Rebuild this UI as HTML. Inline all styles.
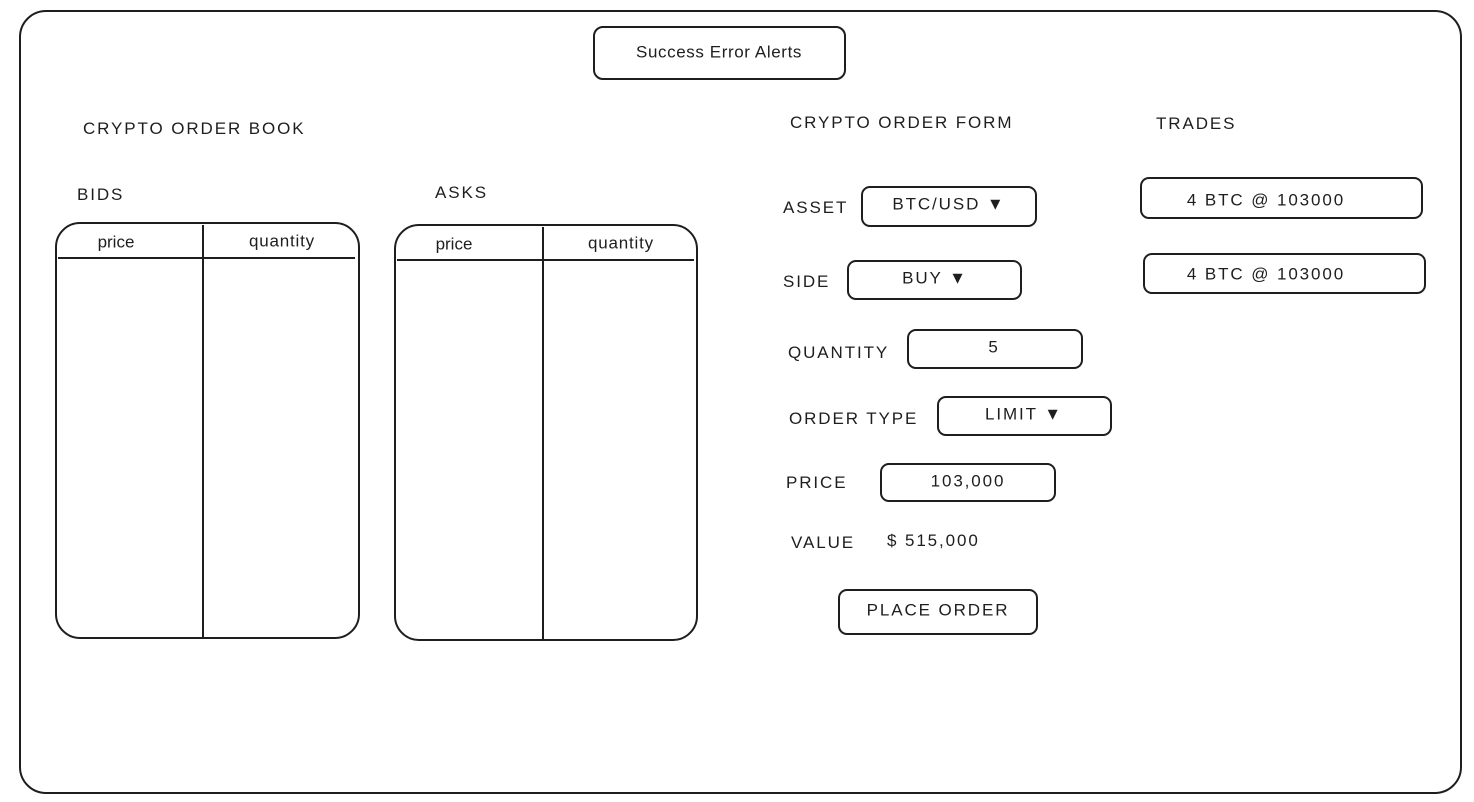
<!DOCTYPE html>
<html><head><meta charset="utf-8"><style>
html,body{margin:0;padding:0;background:#fff;}
svg{display:block;}
text{font-family:"Liberation Sans",sans-serif;fill:#1e1e1e;}
.l{font-size:17px;letter-spacing:1.9px;}
.c{text-anchor:middle;dominant-baseline:middle;}
rect{fill:none;stroke:#1e1e1e;stroke-width:2;}
line{stroke:#1e1e1e;stroke-width:2;}
</style></head><body>
<svg width="1474" height="802" viewBox="0 0 1474 802" xmlns="http://www.w3.org/2000/svg">
<rect x="20" y="11" width="1441" height="782" rx="26"/>
<rect x="594" y="27" width="251" height="52" rx="9"/>
<text x="719" y="53" class="c" font-size="17" letter-spacing="0.6">Success Error Alerts</text>

<text x="83" y="134" class="l">CRYPTO ORDER BOOK</text>
<text x="77" y="200" class="l">BIDS</text>
<text x="435" y="198" class="l">ASKS</text>

<rect x="56" y="223" width="303" height="415" rx="24"/>
<line x1="58" y1="258" x2="355" y2="258"/>
<line x1="203" y1="225" x2="203" y2="637"/>
<text x="116" y="243" class="c" font-size="17">price</text>
<text x="282" y="242" class="c" font-size="17" letter-spacing="0.8">quantity</text>

<rect x="395" y="225" width="302" height="415" rx="24"/>
<line x1="397" y1="260" x2="694" y2="260"/>
<line x1="543" y1="227" x2="543" y2="639"/>
<text x="454" y="245" class="c" font-size="17">price</text>
<text x="621" y="244" class="c" font-size="17" letter-spacing="0.8">quantity</text>

<text x="790" y="128" class="l">CRYPTO ORDER FORM</text>
<text x="1156" y="129" class="l">TRADES</text>

<text x="783" y="213" class="l">ASSET</text>
<rect x="862" y="187" width="174" height="39" rx="8"/>
<text x="949" y="205" class="c l">BTC/USD ▼</text>

<text x="783" y="287" class="l">SIDE</text>
<rect x="848" y="261" width="173" height="38" rx="8"/>
<text x="935" y="279" class="c l">BUY ▼</text>

<text x="788" y="358" class="l">QUANTITY</text>
<rect x="908" y="330" width="174" height="38" rx="8"/>
<text x="994" y="348" class="c l">5</text>

<text x="789" y="424" class="l">ORDER TYPE</text>
<rect x="938" y="397" width="173" height="38" rx="8"/>
<text x="1024" y="415" class="c l">LIMIT ▼</text>

<text x="786" y="488" class="l">PRICE</text>
<rect x="881" y="464" width="174" height="37" rx="8"/>
<text x="968" y="482" class="c l">103,000</text>

<text x="791" y="548" class="l">VALUE</text>
<text x="887" y="546" class="l">$ 515,000</text>

<rect x="839" y="590" width="198" height="44" rx="8"/>
<text x="938" y="611" class="c l">PLACE ORDER</text>

<rect x="1141" y="178" width="281" height="40" rx="8"/>
<text x="1266" y="201" class="c l">4 BTC @ 103000</text>
<rect x="1144" y="254" width="281" height="39" rx="8"/>
<text x="1266" y="275" class="c l">4 BTC @ 103000</text>
</svg>
</body></html>
